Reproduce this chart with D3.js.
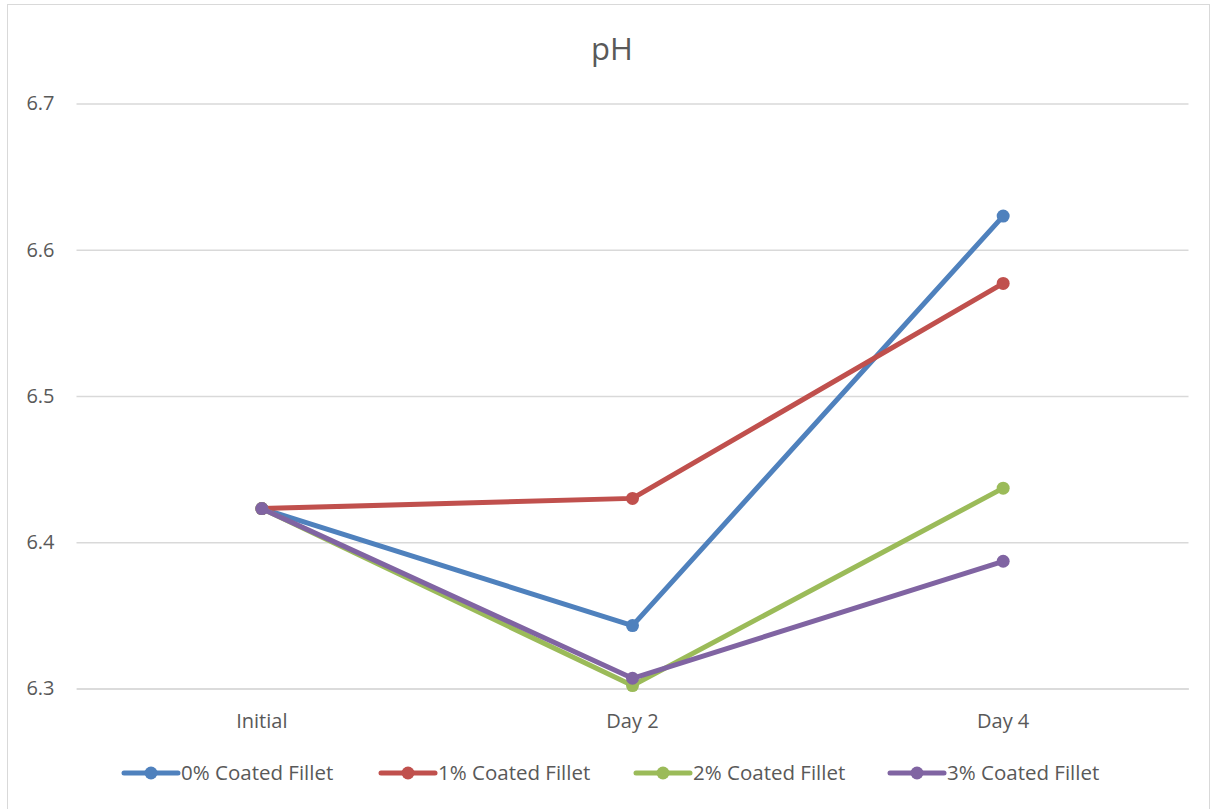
<!DOCTYPE html>
<html><head><meta charset="utf-8">
<script src="https://cdn.jsdelivr.net/npm/d3@7"></script>
<style>body{margin:0;background:#fff;} svg{display:block;}</style>
</head><body>
<svg id="c" width="1214" height="809"></svg>
<script>
const categories = ["Initial", "Day 2", "Day 4"];
const seriesNames = ["0% Coated Fillet", "1% Coated Fillet", "2% Coated Fillet", "3% Coated Fillet"];
const s0 = [6.423, 6.343, 6.623];
const s1 = [6.423, 6.430, 6.577];
const s2 = [6.423, 6.302, 6.437];
const s3 = [6.423, 6.307, 6.387];
const yTicks = [6.3, 6.4, 6.5, 6.6, 6.7];
const colors = ["#4F81BD", "#C0504D", "#9BBB59", "#8064A2"];
const title = "pH";

const series = [s0, s1, s2, s3].map((v, i) => ({name: seriesNames[i], values: v, color: colors[i]}));
const svg = d3.select("#c");
const font = "'Open Sans', 'Liberation Sans', sans-serif";

svg.append("rect").attr("x", 7.5).attr("y", 4.5).attr("width", 1202).attr("height", 820)
  .attr("fill", "#fff").attr("stroke", "#d9d9d9").attr("stroke-width", 1);

const left = 76.5, right = 1188.5;
const x = d3.scaleBand().domain(categories).range([left, right]);
const y = d3.scaleLinear().domain([6.3, 6.7]).range([688.5, 103.5]);

svg.append("text").attr("x", 612).attr("y", 60).attr("text-anchor", "middle")
  .attr("font-family", font).attr("font-size", 31).attr("fill", "#595959").text(title);

const yAxis = svg.append("g").attr("transform", `translate(${left},0)`)
  .call(d3.axisLeft(y).tickValues(yTicks).tickSize(-(right - left)).tickFormat(d3.format(".1f")));
yAxis.select(".domain").remove();
yAxis.selectAll(".tick line").attr("stroke", "#d9d9d9").attr("stroke-width", 1.5);
yAxis.selectAll(".tick text").attr("x", -22).attr("font-family", font).attr("font-size", 20).attr("fill", "#595959");

const xAxis = svg.append("g").attr("transform", `translate(0,688.5)`)
  .call(d3.axisBottom(x).tickSize(0));
xAxis.select(".domain").attr("stroke", "#d9d9d9").attr("stroke-width", 1.5);
xAxis.selectAll(".tick text").attr("dy", 0).attr("y", 39).attr("font-family", font).attr("font-size", 20).attr("fill", "#595959");

const cx = c => x(c) + x.bandwidth() / 2;
const line = d3.line().x((d, i) => cx(categories[i])).y(d => y(d));

const g = svg.append("g");
series.forEach(s => {
  g.append("path").attr("d", line(s.values)).attr("fill", "none").attr("stroke", s.color)
    .attr("stroke-width", 5).attr("stroke-linejoin", "round").attr("stroke-linecap", "round");
  g.selectAll(null).data(s.values).enter().append("circle")
    .attr("cx", (d, i) => cx(categories[i])).attr("cy", d => y(d)).attr("r", 6.5).attr("fill", s.color);
});

const legX = [124, 381, 636, 890];
const leg = svg.append("g");
series.forEach((s, i) => {
  const gx = legX[i];
  leg.append("line").attr("x1", gx).attr("x2", gx + 54).attr("y1", 773).attr("y2", 773)
    .attr("stroke", s.color).attr("stroke-width", 5).attr("stroke-linecap", "round");
  leg.append("circle").attr("cx", gx + 27).attr("cy", 773).attr("r", 6.5).attr("fill", s.color);
  leg.append("text").attr("x", gx + 57).attr("y", 780).attr("font-family", font).attr("font-size", 20.5)
    .attr("fill", "#595959").text(s.name);
});
</script>
</body></html>
